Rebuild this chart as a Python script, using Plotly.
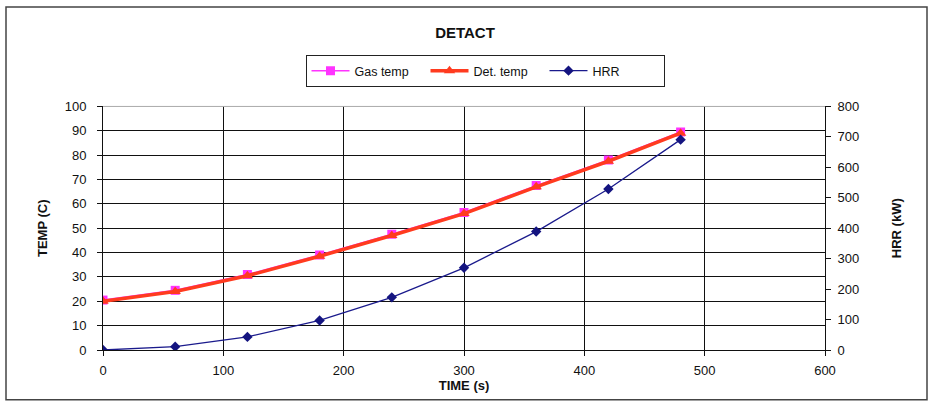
import plotly.graph_objects as go

time_s = [0, 60, 120, 180, 240, 300, 360, 420, 480]
gas_temp = [20.5, 24.5, 31, 39, 47.5, 56.5, 67.5, 78, 89.5]
det_temp = [20, 24, 30.5, 38.5, 47, 56, 67, 77.5, 89]
hrr_kw = [0, 11, 43, 97, 173, 270, 389, 529, 691]

FONT = "Liberation Sans, Arial, sans-serif"

fig = go.Figure()
fig.add_trace(go.Scatter(
    x=time_s, y=gas_temp, name="Gas temp", mode="lines+markers",
    line=dict(color="#FF33FF", width=1.5),
    marker=dict(symbol="square", size=9, color="#FF33FF"),
))
fig.add_trace(go.Scatter(
    x=time_s, y=det_temp, name="Det. temp", mode="lines+markers",
    line=dict(color="#FF3B1F", width=3.5),
    marker=dict(symbol="triangle-up", size=10, color="#FF3B1F"),
))
fig.add_trace(go.Scatter(
    x=time_s, y=hrr_kw, name="HRR", mode="lines+markers", yaxis="y2",
    line=dict(color="#1A1A8C", width=1.3),
    marker=dict(symbol="diamond", size=8, color="#141480"),
))

fig.update_layout(
    width=930, height=404,
    margin=dict(l=103, r=105, t=105, b=54),
    paper_bgcolor="white", plot_bgcolor="white",
    font=dict(family=FONT, size=13, color="#111111"),
    title=dict(text="<b>DETACT</b>", x=0.5, xref="container", xanchor="center",
               y=1 - 33 / 404, yref="container", yanchor="middle",
               font=dict(family=FONT, size=15, color="#111111")),
    showlegend=True,
    legend=dict(orientation="h", xref="container", yref="container",
                x=485 / 930, xanchor="center", y=1 - 55 / 404, yanchor="top",
                bordercolor="#222222", borderwidth=1, bgcolor="white",
                font=dict(family=FONT, size=12.5, color="#111111"),
                itemwidth=38, entrywidth=66, entrywidthmode="pixels",
                tracegroupgap=0),
    xaxis=dict(range=[0, 600], dtick=100, tick0=0,
               showgrid=True, gridcolor="#111111", gridwidth=1,
               showline=True, linecolor="#111111", linewidth=1,
               ticks="outside", ticklen=5, tickcolor="#111111",
               ticklabelstandoff=3,
               zeroline=False,
               title=dict(text="<b>TIME (s)</b>", standoff=4,
                          font=dict(family=FONT, size=13))),
    yaxis=dict(range=[0, 100], dtick=10, tick0=0,
               showgrid=True, gridcolor="#111111", gridwidth=1,
               showline=True, linecolor="#111111", linewidth=1,
               ticks="outside", ticklen=5, tickcolor="#111111",
               ticklabelstandoff=8,
               zeroline=False,
               title=dict(text="<b>TEMP (C)</b>", standoff=14,
                          font=dict(family=FONT, size=13))),
    yaxis2=dict(range=[0, 800], dtick=100, tick0=0, overlaying="y", side="right",
                showgrid=False, showline=True, linecolor="#111111", linewidth=1,
                ticks="outside", ticklen=5, tickcolor="#111111",
                ticklabelstandoff=4,
                zeroline=False,
                title=dict(text="<b>HRR (kW)</b>", standoff=33,
                           font=dict(family=FONT, size=13))),
)

# light top border of the plot area
fig.add_shape(type="line", xref="paper", yref="paper", x0=0, x1=1, y0=1, y1=1,
              line=dict(color="#AAAAAA", width=1))
# outer chart frame
fig.add_shape(type="rect", xref="paper", yref="paper",
              x0=-97 / 722, x1=(722 + 102) / 722, y0=-50 / 245, y1=1 + 100 / 245,
              line=dict(color="#444444", width=1.5))

fig.write_html("out.html", config={"displayModeBar": False},
               post_script="document.body.style.margin='0';")
